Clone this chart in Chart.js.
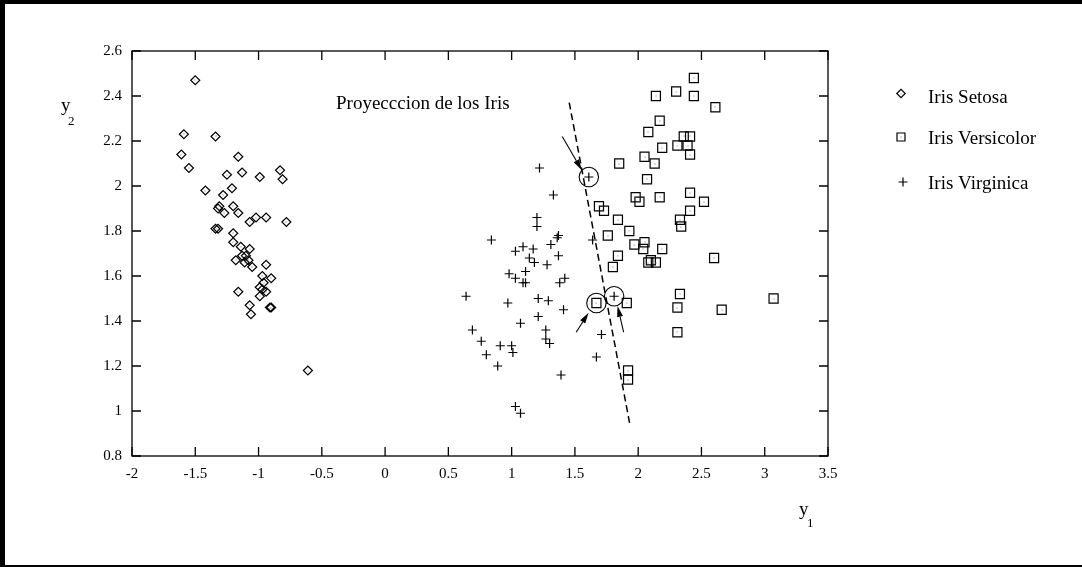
<!DOCTYPE html>
<html>
<head>
<meta charset="utf-8">
<script src="https://cdn.jsdelivr.net/npm/chart.js@4.4.1/dist/chart.umd.min.js"></script>
<style>
  html, body { margin: 0; padding: 0; background: #fff; }
  #wrap { position: relative; width: 1082px; height: 567px; }
  #frame {
    position: absolute; left: 0; top: 0; width: 1082px; height: 567px; box-sizing: border-box;
    border-top: 4px solid #000; border-left: 5px solid #000; border-bottom: 2px solid #000;
    pointer-events: none;
  }
</style>
</head>
<body>
<div id="wrap">
  <canvas id="iris" width="1082" height="567"></canvas>
  <div id="frame"></div>
</div>
<script>
// projected iris samples (y1, y2)
const setosa = [
  [-1.50, 2.47], [-1.59, 2.23], [-1.34, 2.22], [-1.61, 2.14], [-1.16, 2.13], [-1.55, 2.08],
  [-0.83, 2.07], [-1.13, 2.06], [-1.25, 2.05], [-0.81, 2.03], [-0.99, 2.04], [-1.42, 1.98],
  [-1.21, 1.99], [-1.28, 1.96], [-1.31, 1.91], [-1.32, 1.90], [-1.20, 1.91], [-1.27, 1.88],
  [-1.16, 1.88], [-0.78, 1.84], [-1.07, 1.84], [-1.02, 1.86], [-0.94, 1.86], [-1.34, 1.81],
  [-1.32, 1.81], [-1.20, 1.79], [-1.20, 1.75], [-1.14, 1.73], [-1.07, 1.72], [-1.13, 1.69],
  [-1.10, 1.69], [-1.18, 1.67], [-1.08, 1.67], [-1.11, 1.66], [-1.05, 1.64], [-0.94, 1.65],
  [-0.97, 1.60], [-0.90, 1.59], [-0.96, 1.57], [-0.99, 1.55], [-0.97, 1.54], [-0.94, 1.53],
  [-0.99, 1.51], [-1.16, 1.53], [-1.07, 1.47], [-1.06, 1.43], [-0.91, 1.46], [-0.90, 1.46],
  [-0.61, 1.18]
];
const versicolor = [
  [2.44, 2.48], [2.30, 2.42], [2.14, 2.40], [2.44, 2.40], [2.61, 2.35], [2.17, 2.29],
  [2.08, 2.24], [2.36, 2.22], [2.41, 2.22], [2.19, 2.17], [2.31, 2.18], [2.39, 2.18],
  [2.41, 2.14], [1.85, 2.10], [2.05, 2.13], [2.13, 2.10], [2.07, 2.03], [1.98, 1.95],
  [2.01, 1.93], [2.17, 1.95], [2.41, 1.97], [2.52, 1.93], [1.69, 1.91], [1.73, 1.89],
  [2.41, 1.89], [1.84, 1.85], [2.33, 1.85], [2.34, 1.82], [1.93, 1.80], [1.76, 1.78],
  [1.97, 1.74], [2.05, 1.75], [2.04, 1.72], [2.19, 1.72], [1.84, 1.69], [2.60, 1.68],
  [1.80, 1.64], [2.08, 1.66], [2.14, 1.66], [2.10, 1.67], [1.67, 1.48], [1.91, 1.48],
  [2.33, 1.52], [2.31, 1.46], [2.66, 1.45], [3.07, 1.50], [2.31, 1.35], [1.92, 1.18],
  [1.92, 1.14]
];
const virginica = [
  [1.22, 2.08], [1.61, 2.04], [1.33, 1.96], [1.20, 1.86], [1.20, 1.82], [0.84, 1.76],
  [1.37, 1.78], [1.36, 1.77], [1.31, 1.74], [1.09, 1.73], [1.17, 1.72], [1.03, 1.71],
  [1.64, 1.76], [1.14, 1.68], [1.18, 1.66], [1.28, 1.65], [1.37, 1.69], [1.11, 1.62],
  [0.98, 1.61], [1.03, 1.59], [1.11, 1.57], [1.09, 1.57], [1.42, 1.59], [1.38, 1.57],
  [0.64, 1.51], [1.21, 1.50], [1.29, 1.49], [0.97, 1.48], [1.41, 1.45], [1.21, 1.42],
  [1.07, 1.39], [0.69, 1.36], [1.27, 1.36], [0.76, 1.31], [1.27, 1.32], [1.30, 1.30],
  [0.91, 1.29], [1.00, 1.29], [0.80, 1.25], [1.01, 1.26], [0.89, 1.20], [1.39, 1.16],
  [1.03, 1.02], [1.07, 0.99], [1.81, 1.51], [1.71, 1.34], [1.67, 1.24]
];

// misclassified samples near the boundary, and the boundary itself
const highlighted = [[1.61, 2.04], [1.67, 1.48], [1.81, 1.51]];
const boundary = [[1.455, 2.371], [1.938, 0.929]];
const arrows = [
  [[1.40, 2.22], [1.555, 2.07]],
  [[1.51, 1.35], [1.608, 1.437]],
  [[1.885, 1.35], [1.837, 1.467]]
];

const xTicks = [-2, -1.5, -1, -0.5, 0, 0.5, 1, 1.5, 2, 2.5, 3, 3.5];
const yTicks = [0.8, 1, 1.2, 1.4, 1.6, 1.8, 2, 2.2, 2.4, 2.6];
const names = ['Iris Setosa', 'Iris Versicolor', 'Iris Virginica'];

const serif = "'Liberation Serif', 'Times New Roman', serif";
const toXY = pts => pts.map(p => ({ x: p[0], y: p[1] }));
const fmt = v => String(Math.round(v * 10) / 10);

function legendMarker(ctx, kind, x, y) {
  ctx.beginPath();
  if (kind === 'diamond') {
    ctx.moveTo(x - 4.2, y); ctx.lineTo(x, y - 4.2); ctx.lineTo(x + 4.2, y); ctx.lineTo(x, y + 4.2);
    ctx.closePath();
  } else if (kind === 'square') {
    ctx.rect(x - 4, y - 4, 8, 8);
  } else {
    ctx.moveTo(x - 4.5, y); ctx.lineTo(x + 4.5, y);
    ctx.moveTo(x, y - 4.5); ctx.lineTo(x, y + 4.5);
  }
  ctx.stroke();
  if (kind !== 'plus') {
    ctx.fillStyle = '#777';
    ctx.fillRect(Math.round(x) - 0.5, Math.round(y) - 0.5, 1, 1);
  }
}

function arrow(ctx, x0, y0, x1, y1) {
  const ang = Math.atan2(y1 - y0, x1 - x0);
  const len = 11, half = 3;
  const bx = x1 - Math.cos(ang) * len, by = y1 - Math.sin(ang) * len;
  ctx.beginPath();
  ctx.moveTo(x0, y0);
  ctx.lineTo(bx, by);
  ctx.stroke();
  ctx.beginPath();
  ctx.moveTo(x1, y1);
  ctx.lineTo(bx + Math.sin(ang) * half, by - Math.cos(ang) * half);
  ctx.lineTo(bx - Math.sin(ang) * half, by + Math.cos(ang) * half);
  ctx.closePath();
  ctx.fill();
}

const irisDecor = {
  id: 'irisDecor',
  beforeDatasetsDraw(chart) {
    const { ctx, chartArea: a, scales: { x, y } } = chart;
    ctx.save();
    ctx.strokeStyle = '#000';
    ctx.lineWidth = 1.3;
    ctx.strokeRect(a.left, a.top, a.right - a.left, a.bottom - a.top);
    ctx.beginPath();
    x.ticks.forEach(t => {
      const px = x.getPixelForValue(t.value);
      ctx.moveTo(px, a.bottom); ctx.lineTo(px, a.bottom - 9);
      ctx.moveTo(px, a.top); ctx.lineTo(px, a.top + 9);
    });
    y.ticks.forEach(t => {
      const py = y.getPixelForValue(t.value);
      ctx.moveTo(a.left, py); ctx.lineTo(a.left + 9, py);
      ctx.moveTo(a.right, py); ctx.lineTo(a.right - 9, py);
    });
    ctx.stroke();
    ctx.restore();
  },
  afterDatasetsDraw(chart) {
    const { ctx, scales: { x, y } } = chart;
    ctx.save();

    // small centre dot inside diamonds and squares
    ctx.fillStyle = '#777';
    [0, 1].forEach(i => {
      chart.getDatasetMeta(i).data.forEach(pt => {
        ctx.fillRect(Math.round(pt.x) - 0.5, Math.round(pt.y) - 0.5, 1, 1);
      });
    });

    ctx.strokeStyle = '#000';
    ctx.fillStyle = '#000';
    ctx.lineWidth = 1.1;
    arrows.forEach(([from, to]) => {
      arrow(ctx, x.getPixelForValue(from[0]), y.getPixelForValue(from[1]),
        x.getPixelForValue(to[0]), y.getPixelForValue(to[1]));
    });

    ctx.fillStyle = '#000';
    ctx.textBaseline = 'alphabetic';
    ctx.textAlign = 'left';
    ctx.font = '19px ' + serif;
    ctx.fillText('Proyecccion de los Iris', 336, 109);

    // axis names with subscripts
    ctx.fillText('y', 61, 111);
    ctx.fillText('y', 799, 515);
    ctx.font = '13px ' + serif;
    ctx.fillText('2', 68, 125);
    ctx.fillText('1', 807, 527);

    // legend
    const kinds = ['diamond', 'square', 'plus'];
    const marks = [[901, 93.5], [901, 137], [903, 182]];
    const base = [103, 144, 189];
    ctx.lineWidth = 1.2;
    kinds.forEach((k, i) => {
      ctx.strokeStyle = '#000';
      legendMarker(ctx, k, marks[i][0], marks[i][1]);
      ctx.fillStyle = '#000';
      ctx.font = '19px ' + serif;
      ctx.fillText(names[i], 928, base[i]);
    });
    ctx.restore();
  }
};

new Chart(document.getElementById('iris'), {
  type: 'scatter',
  data: {
    datasets: [{
      label: names[0],
      data: toXY(setosa),
      pointStyle: 'rectRot',
      pointRadius: 4.5,
      borderColor: '#000',
      backgroundColor: 'rgba(0,0,0,0)',
      borderWidth: 1.2
    }, {
      label: names[1],
      data: toXY(versicolor),
      pointStyle: 'rect',
      pointRadius: 6.4,
      borderColor: '#000',
      backgroundColor: 'rgba(0,0,0,0)',
      borderWidth: 1.2
    }, {
      label: names[2],
      data: toXY(virginica),
      pointStyle: 'cross',
      pointRadius: 4.5,
      borderColor: '#000',
      borderWidth: 1.2
    }, {
      data: toXY(highlighted),
      pointStyle: 'circle',
      pointRadius: 9.7,
      borderColor: '#000',
      backgroundColor: 'rgba(0,0,0,0)',
      borderWidth: 1.1
    }, {
      type: 'line',
      data: toXY(boundary),
      showLine: true,
      pointRadius: 0,
      borderColor: '#000',
      borderWidth: 1.5,
      borderDash: [7, 4]
    }]
  },
  options: {
    responsive: false,
    animation: false,
    devicePixelRatio: 1,
    events: [],
    layout: { padding: { top: 51, right: 254, bottom: 0, left: 0 } },
    plugins: {
      legend: { display: false },
      tooltip: { enabled: false }
    },
    scales: {
      x: {
        type: 'linear',
        min: -2,
        max: 3.5,
        grid: { display: false, drawTicks: false },
        border: { display: false },
        afterBuildTicks: s => { s.ticks = xTicks.map(v => ({ value: v })); },
        afterFit: s => { s.height = 111; },
        ticks: {
          padding: 9,
          color: '#000',
          font: { family: serif, size: 15 },
          callback: fmt
        }
      },
      y: {
        type: 'linear',
        min: 0.8,
        max: 2.6,
        grid: { display: false, drawTicks: false },
        border: { display: false },
        afterBuildTicks: s => { s.ticks = yTicks.map(v => ({ value: v })); },
        afterFit: s => { s.width = 132; },
        ticks: {
          padding: 10,
          color: '#000',
          font: { family: serif, size: 15 },
          callback: fmt
        }
      }
    }
  },
  plugins: [irisDecor]
});
</script>
</body>
</html>
